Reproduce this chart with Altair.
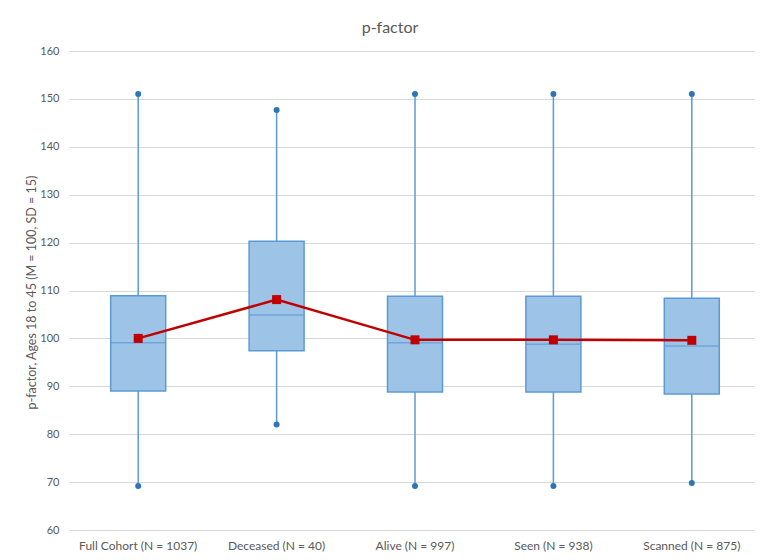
import altair as alt
import pandas as pd

categories = ["Full Cohort (N = 1037)", "Deceased (N = 40)", "Alive (N = 997)",
              "Seen (N = 938)", "Scanned (N = 875)"]
mins = [69.2, 82.0, 69.2, 69.2, 69.8]
q1s = [89.0, 97.4, 88.8, 88.8, 88.4]
medians = [99.1, 104.9, 99.1, 98.8, 98.4]
q3s = [108.9, 120.3, 108.8, 108.8, 108.4]
maxs = [151.0, 147.7, 151.0, 151.0, 151.0]
means = [100.0, 108.1, 99.7, 99.7, 99.6]

df = pd.DataFrame({"cat": categories, "min": mins, "q1": q1s, "med": medians,
                   "q3": q3s, "max": maxs, "mean": means})

FONT = "Lato"
GRAY = "#595959"

x = alt.X("cat:N", sort=categories, title=None,
          scale=alt.Scale(paddingInner=0, paddingOuter=0, range=[0, 692]),
          axis=alt.Axis(labelAngle=0, labelFont=FONT, labelFontSize=12,
                        labelColor=GRAY, labelPadding=10, ticks=False,
                        domain=False, grid=False))
yscale = alt.Scale(domain=[60, 160], nice=False, zero=False)
yaxis = alt.Axis(values=list(range(60, 161, 10)), labelFont=FONT, labelFontSize=11,
                 labelColor=GRAY, labelPadding=10, ticks=False, domain=False,
                 gridColor="#D9D9D9", gridWidth=1,
                 title="p-factor, Ages 18 to 45 (M = 100, SD = 15)",
                 titleFont=FONT, titleFontSize=12.5, titleFontWeight="normal",
                 titleColor=GRAY, titleX=-38, titleY=241, titleAngle=-90,
                 titleBaseline="middle", titleAlign="center")

base = alt.Chart(df)

whisker = base.mark_rule(color="#5B9BD5", strokeWidth=1.5).encode(
    x=x, y=alt.Y("min:Q", scale=yscale, axis=yaxis), y2="max:Q")
box = base.mark_bar(size=55, color="#9DC3E6", stroke="#5B9BD5", strokeWidth=1.5).encode(
    x=x, y=alt.Y("q1:Q", scale=yscale), y2="q3:Q")
median = base.mark_tick(size=55, thickness=1.5, color="#5B9BD5").encode(
    x=x, y=alt.Y("med:Q", scale=yscale))
top_dot = base.mark_circle(size=36, color="#2E75B6", opacity=1).encode(
    x=x, y=alt.Y("max:Q", scale=yscale))
bot_dot = base.mark_circle(size=36, color="#2E75B6", opacity=1).encode(
    x=x, y=alt.Y("min:Q", scale=yscale))
mean_line = base.mark_line(color="#C00000", strokeWidth=2.5).encode(
    x=x, y=alt.Y("mean:Q", scale=yscale))
mean_pts = base.mark_point(shape="square", size=81, filled=True, color="#C00000",
                           opacity=1).encode(x=x, y=alt.Y("mean:Q", scale=yscale))

chart = alt.layer(whisker, box, median, top_dot, bot_dot, mean_line, mean_pts).properties(
    width=686, height=479,
    title=alt.TitleParams("p-factor", font=FONT, fontSize=16, fontWeight="normal",
                          color=GRAY, anchor="middle", offset=9, dx=-22),
    autosize=alt.AutoSizeParams(type="none"),
    padding={"left": 61, "top": 43, "right": 0, "bottom": 22},
).configure_view(stroke=None)

chart.save("out.html", embed_options={"renderer": "svg", "actions": False})
